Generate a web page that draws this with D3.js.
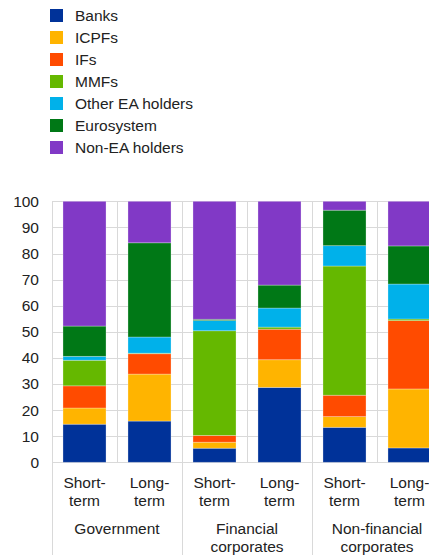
<!DOCTYPE html>
<html>
<head>
<meta charset="utf-8">
<script src="https://cdn.jsdelivr.net/npm/d3@7"></script>
<style>
html,body{margin:0;padding:0;background:#fff;}
svg{display:block;font-family:"Liberation Sans",Arial,sans-serif;}
</style>
</head>
<body>
<svg id="chart" width="429" height="555"></svg>
<script>
// ---- data ----
const groups = ["Government", "Financial corporates", "Non-financial corporates"];
const groupLines = [["Government"], ["Financial", "corporates"], ["Non-financial", "corporates"]];
const maturities = ["Short-term", "Long-term"];
const maturityLines = [["Short-", "term"], ["Long-", "term"]];
const seriesNames = ["Banks", "ICPFs", "IFs", "MMFs", "Other EA holders", "Eurosystem", "Non-EA holders"];
const seriesColors = ["#003299", "#FFB400", "#FF4B00", "#65B800", "#00B1EA", "#007816", "#8139C6"];
// values per bar (Gov S, Gov L, Fin S, Fin L, NonFin S, NonFin L)
const banks      = [14.6, 15.8,  5.4, 28.7, 13.4,  5.5];
const icpfs      = [ 6.2, 18.0,  2.3, 10.6,  4.1, 22.6];
const ifs        = [ 8.5,  7.8,  2.6, 11.7,  8.2, 26.2];
const mmfs       = [ 9.8,  0.2, 40.1,  0.8, 49.5,  0.6];
const otherEA    = [ 1.5,  6.2,  3.9,  7.3,  7.8, 13.4];
const eurosystem = [11.6, 36.1,  0.5,  8.8, 13.6, 14.6];
const nonEA      = [47.8, 15.9, 45.2, 32.1,  3.4, 17.1];
const yTicks = [0, 10, 20, 30, 40, 50, 60, 70, 80, 90, 100];

const seriesValues = [banks, icpfs, ifs, mmfs, otherEA, eurosystem, nonEA];

// ---- build table ----
const bars = [];
groups.forEach((g, gi) => maturities.forEach((m, mi) => {
  const idx = gi * 2 + mi;
  const row = {key: g + "|" + m, group: gi, mat: mi};
  seriesNames.forEach((s, si) => row[s] = seriesValues[si][idx]);
  bars.push(row);
}));

const svg = d3.select("#chart");
const plotL = 52, plotR = 442, plotT = 201.3, plotB = 462.3;
const font = 15.5;
const textColor = "#222";
const gridColor = "#d9d9d9";

const x = d3.scaleBand().domain(bars.map(d => d.key)).range([plotL, plotR])
  .paddingInner(0.338).paddingOuter(0.169);
const xg = d3.scaleBand().domain(groups).range([plotL, plotR]);
const y = d3.scaleLinear().domain([0, 100]).range([plotB, plotT]);

// grid
svg.append("g").selectAll("line").data(yTicks).join("line")
  .attr("x1", plotL).attr("x2", plotR)
  .attr("y1", d => Math.round(y(d)) + 0.5).attr("y2", d => Math.round(y(d)) + 0.5)
  .attr("stroke", gridColor).attr("stroke-width", 1);

// vertical grid at group mid
svg.append("g").selectAll("line").data(groups).join("line")
  .attr("x1", d => Math.round(xg(d) + xg.bandwidth() / 2) + 0.5)
  .attr("x2", d => Math.round(xg(d) + xg.bandwidth() / 2) + 0.5)
  .attr("y1", plotT).attr("y2", plotB)
  .attr("stroke", gridColor).attr("stroke-width", 1);

// group separators extending to bottom
svg.append("g").selectAll("line").data(groups).join("line")
  .attr("x1", d => Math.round(xg(d)) + 0.5).attr("x2", d => Math.round(xg(d)) + 0.5)
  .attr("y1", plotT).attr("y2", 555)
  .attr("stroke", gridColor).attr("stroke-width", 1);

// stacked bars
const stack = d3.stack().keys(seriesNames);
const stacked = stack(bars);
svg.append("g").selectAll("g").data(stacked).join("g")
  .attr("fill", (d, i) => seriesColors[i])
  .selectAll("rect").data(d => d).join("rect")
  .attr("x", d => x(d.data.key))
  .attr("width", x.bandwidth())
  .attr("y", d => y(d[1]))
  .attr("height", d => Math.max(0, y(d[0]) - y(d[1])))
  .attr("stroke", "rgba(255,255,255,0.35)")
  .attr("stroke-width", 0.8);

// y axis labels
svg.append("g").selectAll("text").data(yTicks).join("text")
  .attr("x", 39).attr("y", d => y(d))
  .attr("dy", "0.35em")
  .attr("text-anchor", "end")
  .attr("font-size", font).attr("fill", textColor)
  .text(d => d);

// x labels
const xl = svg.append("g");
bars.forEach(b => {
  const cx = x(b.key) + x.bandwidth() / 2;
  maturityLines[b.mat].forEach((t, i) => {
    xl.append("text").attr("x", cx).attr("y", 482.5 + i * 18).attr("dy", "0.35em")
      .attr("text-anchor", "middle").attr("font-size", font).attr("fill", textColor).text(t);
  });
});
groups.forEach((g, gi) => {
  const cx = xg(g) + xg.bandwidth() / 2;
  groupLines[gi].forEach((t, i) => {
    xl.append("text").attr("x", cx).attr("y", 528.3 + i * 18.4).attr("dy", "0.35em")
      .attr("text-anchor", "middle").attr("font-size", font).attr("fill", textColor).text(t);
  });
});

// legend
const lg = svg.append("g").selectAll("g").data(seriesNames).join("g")
  .attr("transform", (d, i) => `translate(50,${9 + i * 22})`);
lg.append("rect").attr("width", 13).attr("height", 13).attr("fill", (d, i) => seriesColors[i]);
lg.append("text").attr("x", 25).attr("y", 6.5).attr("dy", "0.35em")
  .attr("font-size", font).attr("fill", textColor).text(d => d);
</script>
</body>
</html>
